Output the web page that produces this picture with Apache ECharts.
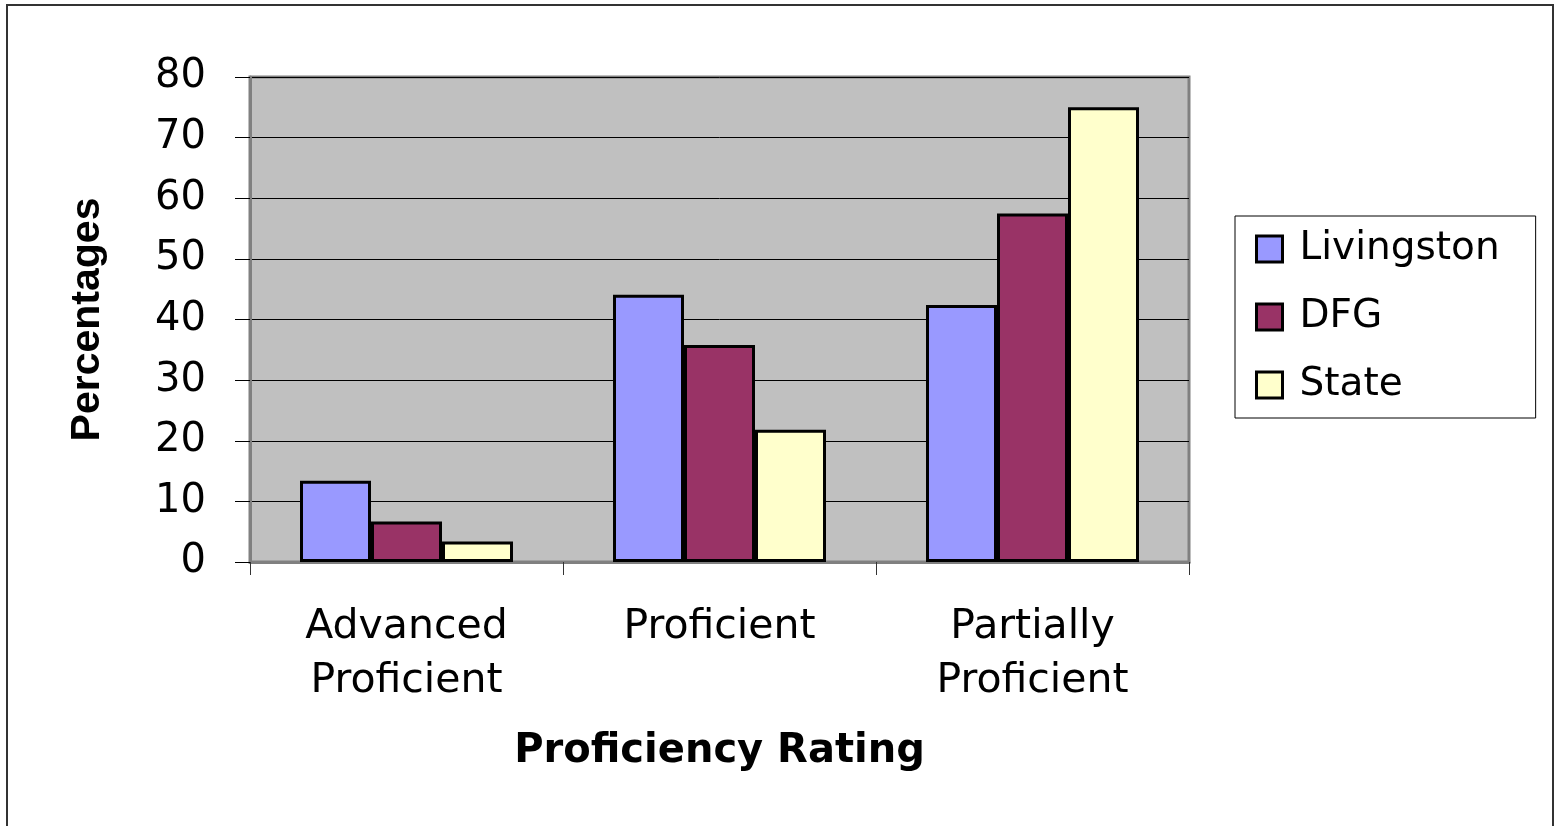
<!DOCTYPE html>
<html>
<head>
<meta charset="utf-8">
<script src="https://cdn.jsdelivr.net/npm/echarts@6/dist/echarts.min.js"></script>
<style>
body {
	margin: 0px;
	background: #fff;
}
#main1 {
	width: 1558px;
	height: 826px;
}
</style>
</head>
<body>
<div id="main1"></div>
<script>
var categories = ['Advanced\nProficient', 'Proficient', 'Partially\nProficient'];
var livingston = [13.4, 44.1, 42.4];
var dfg = [6.7, 35.8, 57.5];
var state = [3.4, 21.8, 75.0];
var yTicks = [0, 80, 10];

var font = '"DejaVu Sans", Verdana, sans-serif';
var narrow = '"Liberation Sans", Arial, sans-serif';

function bar(name, data, color) {
	return {
		name: name,
		type: 'bar',
		data: data,
		barWidth: 71,
		barGap: '0%',
		itemStyle: {
			color: color,
			borderColor: '#000',
			borderWidth: 3
		}
	};
}

var myChart = echarts.init(document.getElementById('main1'));

var option = {
	animation: false,
	backgroundColor: '#fff',
	textStyle: { fontFamily: font },
	graphic: [
		{
			type: 'rect',
			shape: { x: 7, y: 5, width: 1546, height: 840 },
			style: { fill: 'none', stroke: '#333', lineWidth: 2 }
		}
	],
	grid: {
		left: 250,
		right: 369,
		top: 77,
		bottom: 264,
		show: true,
		backgroundColor: '#C0C0C0',
		borderColor: '#808080',
		borderWidth: 3
	},
	legend: {
		orient: 'vertical',
		left: 1235,
		top: 216,
		padding: [11, 36, 11, 20],
		itemWidth: 26,
		itemHeight: 26,
		itemGap: 24,
		borderColor: '#000',
		borderWidth: 1,
		backgroundColor: '#fff',
		icon: 'rect',
		itemStyle: { borderColor: '#000', borderWidth: 3 },
		textStyle: {
			fontSize: 39,
			lineHeight: 44,
			padding: [0, 0, 0, 12],
			color: '#000',
			fontFamily: font
		},
		data: ['Livingston', 'DFG', 'State']
	},
	xAxis: {
		type: 'category',
		data: categories,
		name: 'Proficiency Rating',
		nameLocation: 'middle',
		nameGap: 170,
		nameTextStyle: {
			fontSize: 40,
			fontWeight: 'bold',
			color: '#000',
			fontFamily: font
		},
		axisLine: { lineStyle: { color: '#808080', width: 3 } },
		axisTick: { show: true, length: 13, lineStyle: { color: '#333' } },
		axisLabel: {
			fontSize: 41,
			lineHeight: 54,
			margin: 38,
			color: '#000',
			fontFamily: font
		}
	},
	yAxis: {
		type: 'value',
		min: yTicks[0],
		max: yTicks[1],
		interval: yTicks[2],
		name: 'Percentages',
		nameLocation: 'middle',
		nameGap: 142,
		nameTextStyle: {
			fontSize: 41,
			fontWeight: 'bold',
			color: '#000',
			fontFamily: narrow
		},
		axisLine: { show: true, lineStyle: { color: '#808080', width: 3 } },
		axisTick: { show: true, length: 15, lineStyle: { color: '#000' } },
		axisLabel: {
			fontSize: 40,
			margin: 44,
			color: '#000',
			fontFamily: font
		},
		splitLine: { show: true, lineStyle: { color: '#000', width: 1 } }
	},
	series: [
		bar('Livingston', livingston, '#9999FF'),
		bar('DFG', dfg, '#993366'),
		bar('State', state, '#FFFFCC')
	]
};

myChart.setOption(option);
</script>
</body>
</html>
